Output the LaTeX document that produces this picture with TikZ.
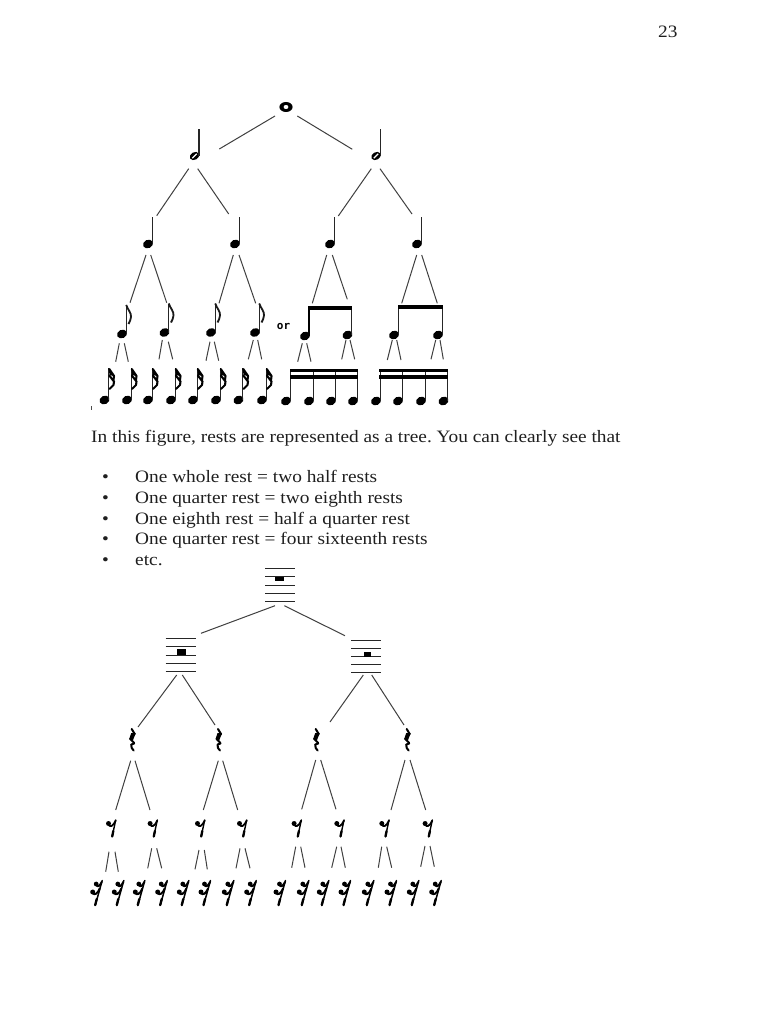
\documentclass[tikz,border=0pt]{standalone}
\usepackage{fontspec}
\setmainfont[FakeStretch=1.112]{Liberation Serif}
\newfontfamily\ormono{DejaVu Sans Mono}
\frenchspacing
\tikzset{
  anch/.style={inner sep=0pt,outer sep=0pt,minimum size=0pt},
  conn/.style={line width=1pt,draw=black!75},
  stemline/.style={line width=1.4pt,draw=black!85},
  fatflag/.style={line width=2.1pt,draw=black,line cap=round,line join=round},
  restline/.style={line width=2pt,draw=black,line cap=round,line join=round},
  stafflin/.style={line width=1.15pt,draw=black!85},
  ptext/.style={anchor=base west,inner sep=0pt,font=\fontsize{17.4}{20}\selectfont,text=black!88},
  gwhole/.pic={\fill[black,even odd rule] (0,0) ellipse [x radius=6.6,y radius=5]
     (0,0) ellipse [x radius=2.6,y radius=2.2];},
  ghalf/.pic={\fill[black,rotate=30] (0,0) ellipse [x radius=5,y radius=3.8];
     \draw[white,line width=1.1pt] (-2.2,2.2)--(2.2,-2.2);
     \draw[stemline] (4.3,0)--(4.3,-27);},
  gnote/.pic={\fill[black,rotate=25] (0,0) ellipse [x radius=5.2,y radius=4.2];
     \draw[stemline] (4.2,0)--(4.2,-#1);},
  geighth/.pic={\fill[black,rotate=25] (0,0) ellipse [x radius=5.2,y radius=4.2];
     \draw[stemline] (4.2,0)--(4.2,-29);
     \draw[line width=1.8pt,black!90] (4.2,-29) .. controls (6,-24) and (9.5,-21) .. (9,-17) .. controls (8.8,-14) and (7.5,-12) .. (6.5,-10);},
  gsixteenth/.pic={\fill[black,rotate=25] (0,0) ellipse [x radius=5.2,y radius=4.2];
     \draw[stemline] (4.2,0)--(4.2,-32.5);
     \draw[fatflag] (4.8,-31)--(9.5,-24)--(9,-20);
     \draw[fatflag] (4.8,-24.5)--(9.5,-18.5)--(9,-15)--(5,-11);
     \fill (4.2,-32) -- (9.5,-24) -- (5,-25) -- cycle;},
  gstaff/.pic={\foreach \yy in {-16.3,-8.3,0.4,8.3,16.3}{\draw[stafflin] (-15,\yy)--(15,\yy);}},
  gqrest/.pic={\draw[restline] (-1,-11)--(2,-6)--(-2.5,-1)--(1.5,3);
     \draw[restline] (1.5,3.5)--(-1.5,4.5)--(-1,8)--(1,10.5);
     \fill (-1.5,-7) -- (3,-7) -- (0,1) -- (-3.5,-1) -- cycle;},
  gerest/.pic={\fill (-3.2,-4.5) circle (2.5);
     \draw[restline,line width=1.8pt] (-3,-3.5)..controls (-2,-0.5) and (1.5,-1.5)..(4,-7.5);
     \draw[restline,line width=1.4pt] (4,-8)--(0.5,8.5);
     \draw[restline,line width=2.3pt] (1.6,3)--(0.5,8.5);},
  gsrest/.pic={\draw[restline,line width=1.5pt] (5.5,-12.5)--(-1.5,12.5);
     \fill (-0.5,-9) circle (2.4); \fill (-4,-1) circle (2.5);
     \draw[restline] (-0.5,-8.5)..controls (0.5,-5.5) and (3,-6.5)..(5,-11);
     \draw[restline] (-4,0)..controls (-2.5,2.5) and (1,1)..(3,-4.5);
     \draw[restline,line width=2.3pt] (0,6)--(-1.5,12);},
}
\newcommand{\gl}[4]{\node[anch] (#2) at (#3,#4) {}; \pic at (#3,#4) {#1};}
\newcommand{\lk}[6]{\draw[conn] ([shift={(#2,#3)}]#1.center) -- ([shift={(#5,#6)}]#4.center);}
\begin{document}
\begin{tikzpicture}[x=1pt,y=-1pt]
\useasboundingbox[fill=white] (0,0) rectangle (768,1024);
% page number and text
\node[ptext,font=\fontsize{17.4}{20}\selectfont] (pageno) at (658,38) {23};
\node[ptext] (intro) at (91,442) {In this figure, rests are represented as a tree. You can clearly see that};
\node[ptext] (b1) at (102,482) {•};
\node[ptext] (b2) at (102,503) {•};
\node[ptext] (b3) at (102,524) {•};
\node[ptext] (b4) at (102,544) {•};
\node[ptext] (b5) at (102,565) {•};
\node[ptext] (l1) at (135,482) {One whole rest = two half rests};
\node[ptext] (l2) at (135,503) {One quarter rest = two eighth rests};
\node[ptext] (l3) at (135,524) {One eighth rest = half a quarter rest};
\node[ptext] (l4) at (135,544) {One quarter rest = four sixteenth rests};
\node[ptext] (l5) at (135,565) {etc.};
\node[anch,font=\ormono\bfseries\fontsize{11}{12}\selectfont] (ortxt) at (283.5,326) {or};
\fill[black!70] (90.5,406) rectangle (91.7,409.5);
% notes tree
\gl{gwhole}{w}{286}{107}
\gl{ghalf}{h1}{194.5}{156}
\gl{ghalf}{h2}{376}{156}
\gl{gnote=27}{q1}{148}{244}
\gl{gnote=27}{q2}{235}{244}
\gl{gnote=27}{q3}{330}{244}
\gl{gnote=27}{q4}{417}{244}
\gl{geighth}{e1}{122}{334}
\gl{geighth}{e2}{164.5}{332.5}
\gl{geighth}{e3}{211}{332.5}
\gl{geighth}{e4}{255}{332.5}
\gl{gnote=28}{bl}{305}{336}
\gl{gnote=28}{br}{347.5}{335}
\gl{gnote=28}{cl}{394}{335}
\gl{gnote=28}{cr}{438}{335}
\fill (308.3,306.3) rectangle (351.9,310.3);
\fill (397.5,305) rectangle (442.6,309);
\draw[line width=1.8pt] (309.2,306.3)--(309.2,336);
\gl{gsixteenth}{s1}{104.5}{400}
\gl{gsixteenth}{s2}{127}{400}
\gl{gsixteenth}{s3}{148}{400}
\gl{gsixteenth}{s4}{171}{400}
\gl{gsixteenth}{s5}{193}{400}
\gl{gsixteenth}{s6}{216}{400}
\gl{gsixteenth}{s7}{238.5}{400}
\gl{gsixteenth}{s8}{262}{400}
\gl{gnote=31}{t1}{286}{401}
\gl{gnote=31}{t2}{309}{401}
\gl{gnote=31}{t3}{331}{401}
\gl{gnote=31}{t4}{353}{401}
\gl{gnote=31}{u1}{376}{401}
\gl{gnote=31}{u2}{398}{401}
\gl{gnote=31}{u3}{421}{401}
\gl{gnote=31}{u4}{443.5}{401}
\fill (289.5,369) rectangle (358,371.8);
\fill (289.5,375.2) rectangle (358,378.8);
\fill (379,369) rectangle (448,371.8);
\fill (379,375.2) rectangle (448,378.8);
% note links
\lk{w}{-11}{9}{h1}{24.8}{-7}
\lk{w}{11.3}{9}{h2}{-23.7}{-6.7}
\lk{h1}{-5.8}{12.7}{q1}{8.7}{-28.3}
\lk{h1}{3.2}{12.7}{q2}{-6.3}{-30}
\lk{h2}{-4.7}{12.7}{q3}{8.3}{-28}
\lk{h2}{4}{12.7}{q4}{-5}{-30}
\lk{q1}{-2}{11}{e1}{8}{-31.3}
\lk{q1}{2.7}{11}{e2}{2.2}{-29.8}
\lk{q2}{-1.7}{11}{e3}{8}{-29.2}
\lk{q2}{4}{11}{e4}{0.7}{-29.2}
\lk{q3}{-3.3}{11}{bl}{7.3}{-32.7}
\lk{q3}{2.3}{11}{br}{-0.2}{-35.7}
\lk{q4}{-0.3}{11}{cl}{7.7}{-31.7}
\lk{q4}{4.7}{11}{cr}{-0.7}{-31.7}
\lk{e1}{-2.7}{9.3}{s1}{11.2}{-38.3}
\lk{e1}{2.3}{9.3}{s2}{1.3}{-38.3}
\lk{e2}{-2.2}{7.5}{s3}{11}{-40.7}
\lk{e2}{3.8}{9.2}{s4}{1.7}{-40.7}
\lk{e3}{-1}{9.2}{s5}{13}{-39.3}
\lk{e3}{3.3}{9.2}{s6}{2.7}{-39.3}
\lk{e4}{-1.7}{7.5}{s7}{9.8}{-40.7}
\lk{e4}{2.7}{7.5}{s8}{-0.3}{-40.7}
\lk{bl}{-2.7}{7.3}{t1}{11.7}{-39.3}
\lk{bl}{1.7}{7.3}{t2}{2}{-39.3}
\lk{br}{-1.5}{5}{t3}{10.7}{-41.7}
\lk{br}{2.5}{5}{t4}{1.7}{-41.7}
\lk{cl}{-1.7}{5}{u1}{11.3}{-41}
\lk{cl}{2.7}{5}{u2}{3}{-41}
\lk{cr}{-2.3}{5}{u3}{10}{-41.7}
\lk{cr}{2}{5}{u4}{-0.2}{-41.7}
% rests tree
\gl{gstaff}{R}{280}{585}
\gl{gstaff}{A}{180.7}{655}
\gl{gstaff}{B}{366.3}{656.5}
\fill (275,577) rectangle (284,581);
\fill (176.7,649.3) rectangle (185.7,655.3);
\fill (363.7,651.7) rectangle (371,657);
\gl{gqrest}{r1}{132.7}{740}
\gl{gqrest}{r2}{219}{740}
\gl{gqrest}{r3}{316.7}{740}
\gl{gqrest}{r4}{407.7}{740}
\gl{gerest}{c1}{111.7}{828}
\gl{gerest}{c2}{153.3}{828}
\gl{gerest}{c3}{200.7}{828}
\gl{gerest}{c4}{242.7}{828}
\gl{gerest}{c5}{297.3}{828}
\gl{gerest}{c6}{340}{828}
\gl{gerest}{c7}{385}{828}
\gl{gerest}{c8}{428.3}{828}
\gl{gsrest}{d1}{96.7}{893}
\gl{gsrest}{d2}{118.3}{893}
\gl{gsrest}{d3}{139.3}{893}
\gl{gsrest}{d4}{161.7}{893}
\gl{gsrest}{d5}{183.3}{893}
\gl{gsrest}{d6}{205}{893}
\gl{gsrest}{d7}{228.3}{893}
\gl{gsrest}{d8}{250.7}{893}
\gl{gsrest}{d9}{280}{893}
\gl{gsrest}{d10}{303.3}{893}
\gl{gsrest}{d11}{323.3}{893}
\gl{gsrest}{d12}{345}{893}
\gl{gsrest}{d13}{368.3}{893}
\gl{gsrest}{d14}{391}{893}
\gl{gsrest}{d15}{413.3}{893}
\gl{gsrest}{d16}{435.7}{893}
% rest links
\lk{R}{-5}{20.7}{A}{20.3}{-21.7}
\lk{R}{4.3}{20.7}{B}{-21.3}{-20.8}
\lk{A}{-4}{20}{r1}{5.3}{-13}
\lk{A}{1.6}{20}{r2}{-4}{-15}
\lk{B}{-3}{18.5}{r3}{13.3}{-18}
\lk{B}{5.4}{18.5}{r4}{-3.7}{-15}
\lk{r1}{-2}{20.7}{c1}{4}{-18}
\lk{r1}{2.3}{20.7}{c2}{-3.3}{-18}
\lk{r2}{-0.7}{20.7}{c3}{2.6}{-18}
\lk{r2}{3.7}{20.7}{c4}{-5}{-18}
\lk{r3}{-1}{20}{c5}{4.4}{-18.7}
\lk{r3}{4}{20}{c6}{-4}{-18.7}
\lk{r4}{-2.7}{20}{c7}{6}{-18}
\lk{r4}{2.3}{20}{c8}{-2.6}{-18}
\lk{c1}{-2.7}{23.7}{d1}{9}{-21.3}
\lk{c1}{3.3}{23.7}{d2}{0}{-21.3}
\lk{c2}{-1.6}{20.3}{d3}{8.4}{-24.7}
\lk{c2}{3.4}{20.3}{d4}{0}{-24.7}
\lk{c3}{-1.7}{22}{d5}{11.7}{-23.7}
\lk{c3}{3.6}{22}{d6}{2.3}{-23.7}
\lk{c4}{-2.7}{20.3}{d7}{7.7}{-24.7}
\lk{c4}{2.3}{20.3}{d8}{-0.7}{-24.7}
\lk{c5}{-1.6}{18.7}{d9}{11.7}{-25.3}
\lk{c5}{3.4}{18.7}{d10}{1.7}{-25.3}
\lk{c6}{-3.3}{18.7}{d11}{8.4}{-25.3}
\lk{c6}{1}{18.7}{d12}{0.3}{-25.3}
\lk{c7}{-3.3}{18.7}{d13}{10}{-25.3}
\lk{c7}{1.7}{18.7}{d14}{0.7}{-25.3}
\lk{c8}{-3.3}{18}{d15}{7.4}{-26.3}
\lk{c8}{1.7}{18}{d16}{-1.4}{-26.3}
\end{tikzpicture}
\end{document}
